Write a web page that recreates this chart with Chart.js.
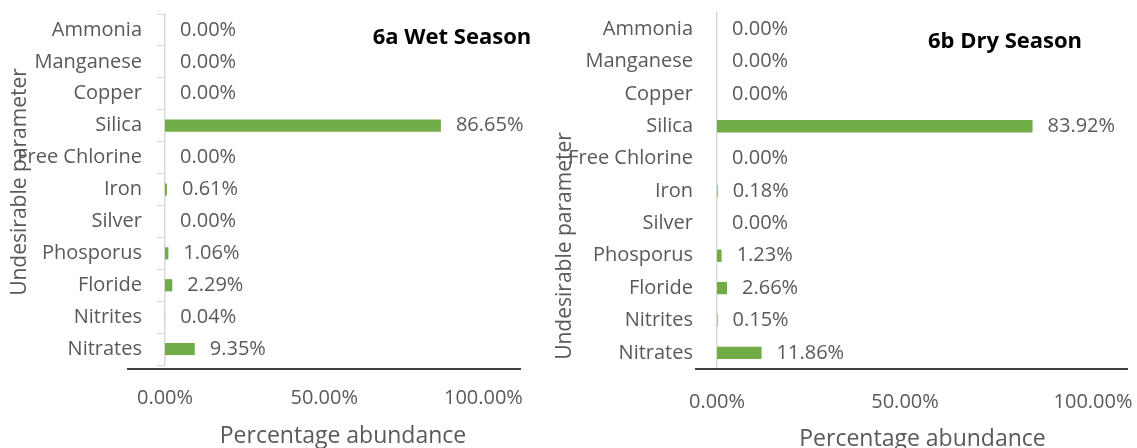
<!DOCTYPE html>
<html>
<head>
<meta charset="utf-8">
<script src="https://cdn.jsdelivr.net/npm/chart.js@4.4.1/dist/chart.umd.min.js"></script>
<style>
  html, body { margin: 0; padding: 0; background: #fff; }
  body { width: 1137px; height: 448px; position: relative; overflow: hidden; }
  .box { position: absolute; top: 0; height: 448px; }
  #boxWet { left: 0; width: 555px; }
  #boxDry { left: 555px; width: 582px; }
</style>
</head>
<body>
<div class="box" id="boxWet"><canvas id="wet"></canvas></div>
<div class="box" id="boxDry"><canvas id="dry"></canvas></div>
<script>
// dados (%)
const parametros = ['Ammonia', 'Manganese', 'Copper', 'Silica', 'Free Chlorine', 'Iron',
  'Silver', 'Phosporus', 'Floride', 'Nitrites', 'Nitrates'];
const valoresWet = [0, 0, 0, 86.65, 0, 0.61, 0, 1.06, 2.29, 0.04, 9.35];
const valoresDry = [0, 0, 0, 83.92, 0, 0.18, 0, 1.23, 2.66, 0.15, 11.86];
const ticksX = [0, 50, 100];

const fonte = "'Open Sans', 'DejaVu Sans', sans-serif";
const cinza = '#595959';
const verde = '#70ad47';

// rótulos, títulos e a linha preta do eixo
const extras = {
  id: 'extras',
  afterDatasetsDraw(chart, args, opts) {
    const ctx = chart.ctx;
    const area = chart.chartArea;
    const valores = chart.data.datasets[0].data;
    ctx.save();
    // rótulos de dados
    ctx.font = '20px ' + fonte;
    ctx.fillStyle = cinza;
    ctx.textAlign = 'left';
    ctx.textBaseline = 'middle';
    chart.getDatasetMeta(0).data.forEach((bar, i) => {
      ctx.fillText(valores[i].toFixed(2) + '%', bar.x + 15, bar.y);
    });
    // linha do eixo horizontal
    ctx.strokeStyle = '#000';
    ctx.lineWidth = 1.6;
    ctx.beginPath();
    ctx.moveTo(area.left - opts.linhaEsq, area.bottom + opts.linhaDy);
    ctx.lineTo(area.right, area.bottom + opts.linhaDy);
    ctx.stroke();
    // título do eixo vertical
    ctx.save();
    ctx.translate(opts.yTitX, opts.yTitY);
    ctx.rotate(-Math.PI / 2);
    ctx.font = '21px ' + fonte;
    ctx.textAlign = 'center';
    ctx.fillText('Undesirable parameter', 0, 0);
    ctx.restore();
    // título do gráfico
    ctx.font = 'bold 22px ' + fonte;
    ctx.fillStyle = '#000';
    ctx.textAlign = 'center';
    ctx.fillText(opts.titulo, opts.titX, opts.titY);
    ctx.restore();
  }
};

function criarGrafico(id, valores, cfg) {
  return new Chart(document.getElementById(id), {
    type: 'bar',
    data: {
      labels: parametros,
      datasets: [{
        data: valores,
        backgroundColor: verde,
        barPercentage: 0.38,
        categoryPercentage: 1
      }]
    },
    plugins: [extras],
    options: {
      indexAxis: 'y',
      responsive: true,
      maintainAspectRatio: false,
      animation: false,
      layout: { padding: { left: 0, right: cfg.padDir, top: cfg.padTopo, bottom: 0 } },
      plugins: {
        legend: { display: false },
        tooltip: { enabled: false },
        extras: cfg.extras
      },
      scales: {
        x: {
          min: 0,
          max: cfg.maxX,
          afterBuildTicks: axis => { axis.ticks = ticksX.map(v => ({ value: v })); },
          afterFit: axis => {
            axis.height = cfg.alturaX;
            axis.paddingLeft = 0;
            axis.paddingRight = 0;
          },
          grid: { display: false, drawTicks: false },
          border: { display: false },
          ticks: {
            color: cinza,
            font: { family: fonte, size: 20 },
            padding: cfg.padTickX,
            maxRotation: 0,
            callback: v => v.toFixed(2) + '%'
          },
          title: {
            display: true,
            text: 'Percentage abundance',
            color: cinza,
            font: { family: fonte, size: 23, lineHeight: 1 },
            padding: { top: 0, bottom: cfg.padTitX }
          }
        },
        y: {
          afterFit: axis => {
            axis.width = cfg.larguraY;
            axis.paddingTop = 0;
            axis.paddingBottom = 0;
          },
          grid: {
            display: cfg.marcas,
            drawOnChartArea: false,
            drawTicks: cfg.marcas,
            tickLength: 8,
            offset: true,
            color: '#d9d9d9'
          },
          border: { display: true, color: '#d9d9d9', width: 1.5 },
          ticks: {
            color: cinza,
            font: { family: fonte, size: 20 },
            padding: cfg.padTickY,
            autoSkip: false
          }
        }
      }
    }
  });
}

criarGrafico('wet', valoresWet, {
  padDir: 34, padTopo: 14, maxX: 111.8, alturaX: 83, larguraY: 165,
  padTickX: 21, padTitX: 0, marcas: true, padTickY: 15,
  extras: { linhaEsq: 38, linhaDy: 4, yTitX: 20, yTitY: 182, titulo: '6a Wet Season', titX: 452, titY: 38 }
});

criarGrafico('dry', valoresDry, {
  padDir: 9, padTopo: 13, maxX: 109.3, alturaX: 79, larguraY: 162,
  padTickX: 21, padTitX: -3, marcas: false, padTickY: 24,
  extras: { linhaEsq: 22, linhaDy: 0, yTitX: 10, yTitY: 246, titulo: '6b Dry Season', titX: 450, titY: 42 }
});
</script>
</body>
</html>
